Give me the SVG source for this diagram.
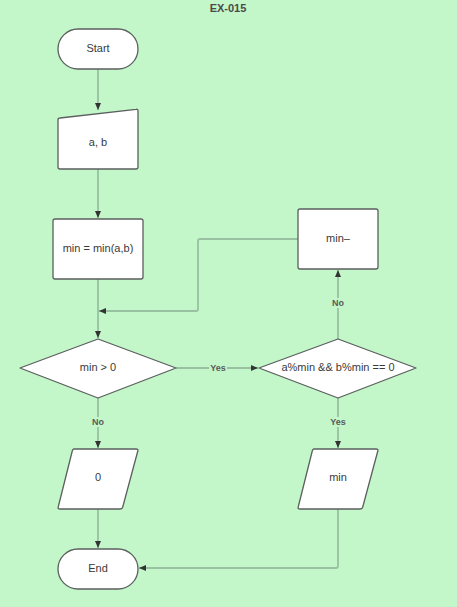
<svg xmlns="http://www.w3.org/2000/svg" width="457" height="607" viewBox="0 0 457 607">
<style>
.node{fill:#ffffff;stroke:#5b5f5e;stroke-width:1.3;stroke-linejoin:round}
.t{font-family:"Liberation Sans",Arial,sans-serif;font-size:11px;fill:#3a3a3a;text-anchor:middle;dominant-baseline:central}
.title{font-family:"Liberation Sans",Arial,sans-serif;font-size:11px;font-weight:bold;fill:#4a4a4a;text-anchor:middle}
.edge{fill:none;stroke:#97c1a0;stroke-width:1.8;stroke-linejoin:round}
.lbl{font-family:"Liberation Sans",Arial,sans-serif;font-size:9px;font-weight:bold;fill:#5a5a5a;text-anchor:middle;dominant-baseline:central}
.lblbg{fill:#c3f7c9}
</style>
<defs>
<marker id="ah" markerUnits="userSpaceOnUse" markerWidth="8" markerHeight="8" viewBox="0 0 8 8" refX="7" refY="4" orient="auto">
<path d="M0,1 L7,4 L0,7 Z" fill="#333"/>
</marker>
</defs>
<rect width="457" height="607" fill="#c3f7c9"/>
<text class="title" x="228" y="12">EX-015</text>
<g id="connectors">
<path class="edge" d="M98,69 V110" marker-end="url(#ah)"/>
<path class="edge" d="M98,169 V218" marker-end="url(#ah)"/>
<path class="edge" d="M98,279 V338" marker-end="url(#ah)"/>
<path class="edge" d="M298,239 H200 Q198,239 198,241 V309 Q198,311 196,311 H99" marker-end="url(#ah)"/>
<path class="edge" d="M176,368 H258" marker-end="url(#ah)"/>
<path class="edge" d="M338,339 V270" marker-end="url(#ah)"/>
<path class="edge" d="M98,398 V448" marker-end="url(#ah)"/>
<path class="edge" d="M338,398 V448" marker-end="url(#ah)"/>
<path class="edge" d="M98,509 V548" marker-end="url(#ah)"/>
<path class="edge" d="M338,509 V566 Q338,568 336,568 H139" marker-end="url(#ah)"/>
<rect class="lblbg" x="209" y="363" width="18" height="10"/>
<text class="lbl" x="218" y="368">Yes</text>
<rect class="lblbg" x="331" y="298" width="14" height="10"/>
<text class="lbl" x="338" y="303">No</text>
<rect class="lblbg" x="91" y="417" width="14" height="10"/>
<text class="lbl" x="98" y="422">No</text>
<rect class="lblbg" x="329" y="417" width="18" height="10"/>
<text class="lbl" x="338" y="422">Yes</text>
</g>
<g id="start">
<rect class="node" x="58" y="29" width="80" height="40" rx="20"/>
<text class="t" x="98" y="48">Start</text>
</g>
<g id="input-ab">
<path class="node" d="M60,118 L136,109.3 Q138,109 138,111 V167 Q138,169 136,169 H60 Q58,169 58,167 V120 Q58,118 60,118 Z"/>
<text class="t" x="98" y="142">a, b</text>
</g>
<g id="min-init">
<rect class="node" x="53" y="219" width="90" height="60" rx="2"/>
<text class="t" x="98" y="248">min = min(a,b)</text>
</g>
<g id="min-dec">
<rect class="node" x="298" y="209" width="80" height="60" rx="2"/>
<text class="t" x="338" y="238">min–</text>
</g>
<g id="cond1">
<polygon class="node" points="20,368 98,339 176,368 98,398"/>
<text class="t" x="98" y="367">min &gt; 0</text>
</g>
<g id="cond2">
<polygon class="node" points="259,368 338,339 416,368 338,398"/>
<text class="t" x="338" y="367">a%min &amp;&amp; b%min == 0</text>
</g>
<g id="out-zero">
<path class="node" d="M74,449 H136 Q138.5,449 137.8,451 L122.6,507.5 Q122,509 120,509 H60 Q57.5,509 58.2,507 L72.4,450.5 Q73,449 74,449 Z"/>
<text class="t" x="98" y="477">0</text>
</g>
<g id="out-min">
<path class="node" d="M314,449 H376 Q378.5,449 377.8,451 L362.6,507.5 Q362,509 360,509 H300 Q297.5,509 298.2,507 L312.4,450.5 Q313,449 314,449 Z"/>
<text class="t" x="338" y="477">min</text>
</g>
<g id="end">
<rect class="node" x="58" y="549" width="80" height="40" rx="20"/>
<text class="t" x="98" y="568">End</text>
</g>
</svg>
